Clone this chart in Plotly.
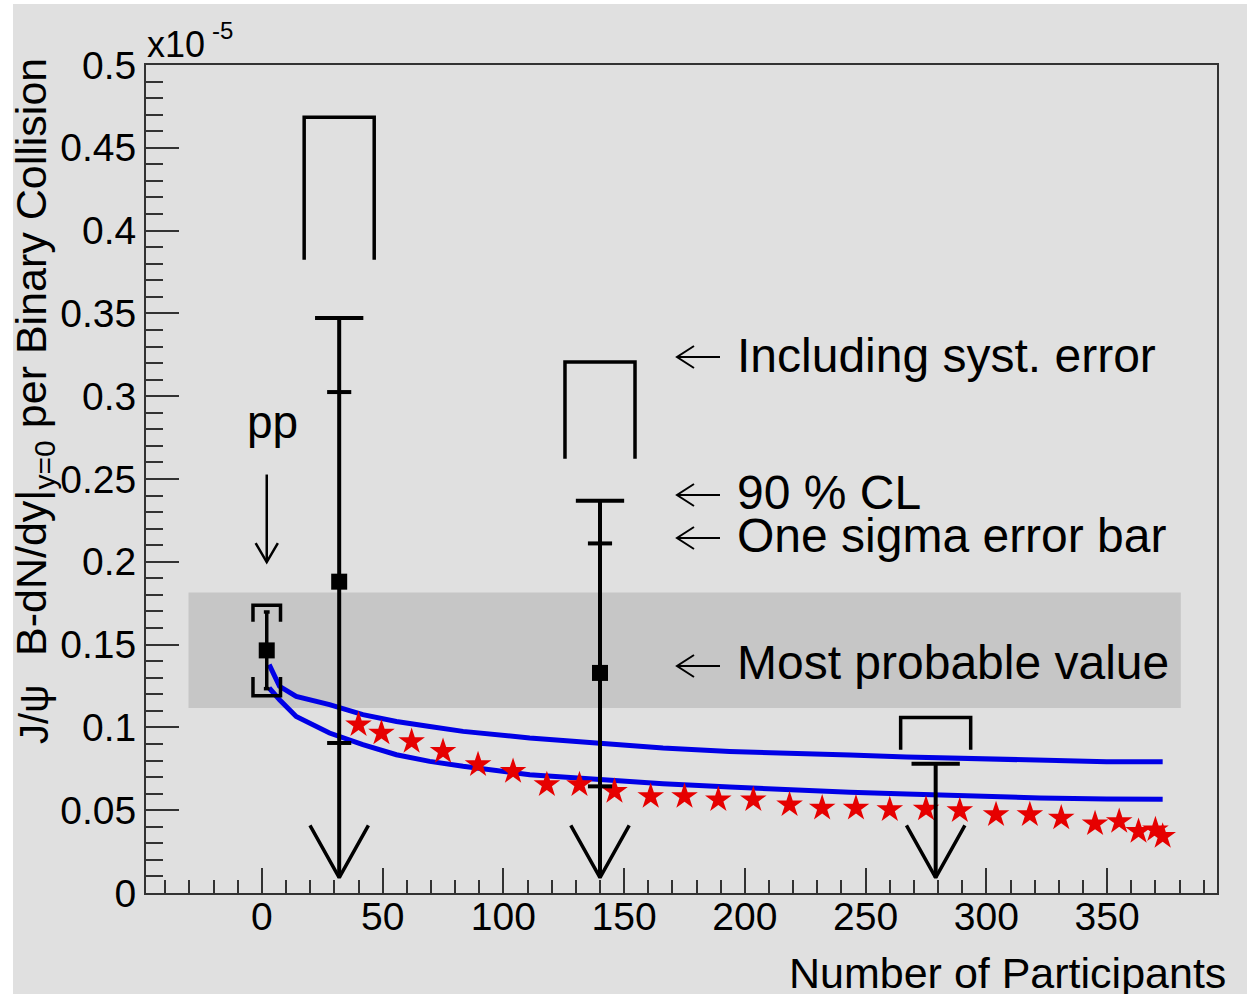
import plotly.graph_objects as go

# ---------------- data (values in units of 1e-5) ----------------
PP_NPART = 2.0
PP_VALUE = 0.1465
PP_SIGMA_LOW = 0.1234
PP_SIGMA_HIGH = 0.1697
PP_SYST_LOW = 0.1191
PP_SYST_LOW_LEG = 0.1304
PP_SYST_HIGH = 0.1737
PP_SYST_HIGH_LEG = 0.1638
PP_ARROW_TOP = 0.2527
PP_ARROW_BOTTOM = 0.1998

AUAU_NPART = [32, 140, 279]
AUAU_MPV = [0.188, 0.1329, None]
AUAU_SIGMA_HIGH = [0.3025, 0.2111, None]
AUAU_SIGMA_LOW = [0.0906, 0.0644, None]
AUAU_CL90 = [0.3472, 0.2369, 0.0781]
AUAU_SYST_TOP = [0.4684, 0.3207, 0.1060]
AUAU_SYST_LEG_END = [0.3824, 0.2623, 0.0865]
ARROW_TIP = 0.0093

BAND_X = [-30.4, 380.5]
BAND_Y = [0.1117, 0.1815]

MODEL_X = [3, 7.3, 14.2, 28, 41.8, 55.7, 69.5, 83.3, 110.9, 138.5, 166.1,
           193.7, 221.4, 243.5, 266.9, 294.5, 322.2, 349.8, 373]
MODEL_UPPER = [0.1379, 0.1248, 0.1187, 0.1138, 0.1077, 0.1036, 0.1006, 0.0976,
               0.0936, 0.0906, 0.0876, 0.0855, 0.0839, 0.0833, 0.0821, 0.0811,
               0.0801, 0.0793, 0.0792]
MODEL_LOWER = [0.1238, 0.1167, 0.1066, 0.0966, 0.0896, 0.0835, 0.0795, 0.0765,
               0.0714, 0.0684, 0.0660, 0.0640, 0.0620, 0.0609, 0.0598, 0.0583,
               0.0574, 0.0568, 0.0566]

STAR_X = [40, 49.5, 62, 75, 89.5, 104, 118, 131.5, 146, 161, 175, 189, 203.5,
          218.5, 232, 246, 260, 275, 289, 304, 318, 331, 345, 355, 363, 370, 373]
STAR_Y = [0.1016, 0.0966, 0.0915, 0.0855, 0.0775, 0.0734, 0.0654, 0.0654,
          0.0614, 0.0583, 0.0583, 0.0563, 0.0563, 0.0533, 0.0513, 0.0513,
          0.0503, 0.0507, 0.0497, 0.0473, 0.0473, 0.0453, 0.0418, 0.0432,
          0.0372, 0.0382, 0.0342]

X_RANGE = [-48, 395.5]
Y_RANGE = [0, 0.5]

LABELS = ["Including syst. error", "90 % CL", "One sigma error bar", "Most probable value"]

# ---------------- style ----------------
FONT = "Liberation Sans, Arial, Helvetica, sans-serif"
BG = "#e0e0e0"
BAND_COLOR = "#c6c6c6"
BLUE = "#0000e6"
RED = "#e60000"
AX = "#333333"
CAP_HALF = 10
SIGMA_HALF = 5
SYST_HALF = 14.5
PP_SYST_HALF = 5.7
PP_CAP_HALF = 1.2
ARROW_HALF = 12.1
ARROW_HEAD = 0.0315
PP_ARROW_HALF = 4.6
PP_ARROW_HEAD = 0.0115

W, H = 1247, 994
L, R, T, B = 146, 1217, 65, 893


def px(x):
    return (x - L) / (R - L)


def py(y):
    return (B - y) / (B - T)


def segs(pairs):
    xs, ys = [], []
    for (xa, ya, xb, yb) in pairs:
        xs += [xa, xb, None]
        ys += [ya, yb, None]
    return xs, ys


def poly(list_of_paths):
    xs, ys = [], []
    for path in list_of_paths:
        for (a, b) in path:
            xs.append(a)
            ys.append(b)
        xs.append(None)
        ys.append(None)
    return xs, ys


fig = go.Figure()

# band
fig.add_trace(go.Scatter(
    x=[BAND_X[0], BAND_X[1], BAND_X[1], BAND_X[0], BAND_X[0]],
    y=[BAND_Y[0], BAND_Y[0], BAND_Y[1], BAND_Y[1], BAND_Y[0]],
    mode="lines", fill="toself", fillcolor=BAND_COLOR,
    line=dict(width=0, color=BAND_COLOR), hoverinfo="skip"))

# model curves
for ys in (MODEL_UPPER, MODEL_LOWER):
    fig.add_trace(go.Scatter(x=MODEL_X, y=ys, mode="lines",
                             line=dict(color=BLUE, width=5)))

# stars
fig.add_trace(go.Scatter(x=STAR_X, y=STAR_Y, mode="markers",
                         marker=dict(symbol="star", size=20, color=RED,
                                     line=dict(width=0))))

# vertical upper-limit lines with arrows
vx, vy = segs([(x, c, x, ARROW_TIP) for x, c in zip(AUAU_NPART, AUAU_CL90)])
fig.add_trace(go.Scatter(x=vx, y=vy, mode="lines", line=dict(color="black", width=4)))

ax_, ay_ = poly([[(x - ARROW_HALF, ARROW_TIP + ARROW_HEAD), (x, ARROW_TIP),
                  (x + ARROW_HALF, ARROW_TIP + ARROW_HEAD)] for x in AUAU_NPART])
fig.add_trace(go.Scatter(x=ax_, y=ay_, mode="lines", line=dict(color="black", width=3.5)))

# 90% CL caps
cx, cy = segs([(x - CAP_HALF, c, x + CAP_HALF, c) for x, c in zip(AUAU_NPART, AUAU_CL90)])
fig.add_trace(go.Scatter(x=cx, y=cy, mode="lines", line=dict(color="black", width=4)))

# one-sigma ticks
sp = []
for x, hi, lo in zip(AUAU_NPART, AUAU_SIGMA_HIGH, AUAU_SIGMA_LOW):
    if hi is not None:
        sp.append((x - SIGMA_HALF, hi, x + SIGMA_HALF, hi))
        sp.append((x - SIGMA_HALF, lo, x + SIGMA_HALF, lo))
sx, sy = segs(sp)
fig.add_trace(go.Scatter(x=sx, y=sy, mode="lines", line=dict(color="black", width=4)))

# systematic brackets
bx, by = poly([[(x - SYST_HALF, e), (x - SYST_HALF, t), (x + SYST_HALF, t), (x + SYST_HALF, e)]
               for x, t, e in zip(AUAU_NPART, AUAU_SYST_TOP, AUAU_SYST_LEG_END)])
fig.add_trace(go.Scatter(x=bx, y=by, mode="lines", line=dict(color="black", width=3.5)))

# pp error bar and brackets
px_, py_ = segs([(PP_NPART, PP_SIGMA_LOW, PP_NPART, PP_SIGMA_HIGH),
                 (PP_NPART - PP_CAP_HALF, PP_SIGMA_LOW, PP_NPART + PP_CAP_HALF, PP_SIGMA_LOW),
                 (PP_NPART - PP_CAP_HALF, PP_SIGMA_HIGH, PP_NPART + PP_CAP_HALF, PP_SIGMA_HIGH)])
fig.add_trace(go.Scatter(x=px_, y=py_, mode="lines", line=dict(color="black", width=3.5)))

ppb_x, ppb_y = poly([
    [(PP_NPART - PP_SYST_HALF, PP_SYST_HIGH_LEG), (PP_NPART - PP_SYST_HALF, PP_SYST_HIGH),
     (PP_NPART + PP_SYST_HALF, PP_SYST_HIGH), (PP_NPART + PP_SYST_HALF, PP_SYST_HIGH_LEG)],
    [(PP_NPART - PP_SYST_HALF, PP_SYST_LOW_LEG), (PP_NPART - PP_SYST_HALF, PP_SYST_LOW),
     (PP_NPART + PP_SYST_HALF, PP_SYST_LOW), (PP_NPART + PP_SYST_HALF, PP_SYST_LOW_LEG)],
])
fig.add_trace(go.Scatter(x=ppb_x, y=ppb_y, mode="lines", line=dict(color="black", width=3.5)))

# pp pointer arrow
pa_x, pa_y = poly([
    [(PP_NPART, PP_ARROW_TOP), (PP_NPART, PP_ARROW_BOTTOM)],
    [(PP_NPART - PP_ARROW_HALF, PP_ARROW_BOTTOM + PP_ARROW_HEAD), (PP_NPART, PP_ARROW_BOTTOM),
     (PP_NPART + PP_ARROW_HALF, PP_ARROW_BOTTOM + PP_ARROW_HEAD)],
])
fig.add_trace(go.Scatter(x=pa_x, y=pa_y, mode="lines", line=dict(color="black", width=2.5)))

# squares (most probable values)
sq_x = [PP_NPART] + [x for x, m in zip(AUAU_NPART, AUAU_MPV) if m is not None]
sq_y = [PP_VALUE] + [m for m in AUAU_MPV if m is not None]
fig.add_trace(go.Scatter(x=sq_x, y=sq_y, mode="markers",
                         marker=dict(symbol="square", size=16, color="black",
                                     line=dict(width=0))))

# ---------------- annotations ----------------
ann = []
shapes = [dict(type="rect", xref="paper", yref="paper",
               x0=px(13), x1=px(W + 5), y0=py(4), y1=py(H + 5),
               fillcolor=BG, line=dict(width=0), layer="below")]

label_y = [355, 492, 535, 662]
arrow_y = [357, 495, 538, 666]
for txt, yy, ay in zip(LABELS, label_y, arrow_y):
    ann.append(dict(x=px(735), y=py(yy), xref="paper", yref="paper", text=txt,
                    showarrow=False, xanchor="left", yanchor="middle",
                    font=dict(family=FONT, size=48, color="black")))
    x0, x1, hl, hh = 677, 720, 17, 11
    path = (f"M {px(x1)},{py(ay)} L {px(x0)},{py(ay)} "
            f"M {px(x0 + hl)},{py(ay - hh)} L {px(x0)},{py(ay)} L {px(x0 + hl)},{py(ay + hh)}")
    shapes.append(dict(type="path", xref="paper", yref="paper", path=path,
                       line=dict(color="black", width=2)))

ann.append(dict(x=px(272), y=py(422), xref="paper", yref="paper", text="pp",
                showarrow=False, xanchor="center", yanchor="middle",
                font=dict(family=FONT, size=46, color="black")))

ann.append(dict(x=px(1228), y=py(973), xref="paper", yref="paper",
                text="Number of Participants", showarrow=False,
                xanchor="right", yanchor="middle",
                font=dict(family=FONT, size=43, color="black")))

ann.append(dict(x=px(34), y=py(357), xref="paper", yref="paper",
                text="B-dN/dy|<sub>y=0</sub> per Binary Collision", showarrow=False,
                textangle=-90, xanchor="center", yanchor="middle",
                font=dict(family=FONT, size=43, color="black")))
ann.append(dict(x=px(34), y=py(714), xref="paper", yref="paper",
                text="J/\u03c8", showarrow=False,
                textangle=-90, xanchor="center", yanchor="middle",
                font=dict(family=FONT, size=40, color="black")))

ann.append(dict(x=px(145), y=py(45), xref="paper", yref="paper", text="x10",
                showarrow=False, xanchor="left", yanchor="middle",
                font=dict(family=FONT, size=36, color="black")))
ann.append(dict(x=px(210), y=py(30), xref="paper", yref="paper", text="-5",
                showarrow=False, xanchor="left", yanchor="middle",
                font=dict(family=FONT, size=24, color="black")))

fig.update_layout(
    width=W, height=H, autosize=False,
    margin=dict(l=L, r=W - R, t=T, b=H - B, pad=0),
    paper_bgcolor="white", plot_bgcolor=BG,
    showlegend=False,
    annotations=ann,
    shapes=shapes,
)

fig.update_xaxes(range=X_RANGE, tick0=0, dtick=50, ticks="inside", ticklen=25,
                 tickwidth=2, tickcolor=AX, showline=True, linecolor=AX, linewidth=2,
                 mirror=True, showgrid=False, zeroline=False,
                 ticklabelstandoff=-12,
                 tickfont=dict(family=FONT, size=39, color="black"),
                 minor=dict(dtick=10, tick0=0, ticks="inside", ticklen=13,
                            tickwidth=2, tickcolor=AX, showgrid=False))
fig.update_yaxes(range=Y_RANGE, tick0=0, dtick=0.05, ticks="inside", ticklen=33,
                 tickwidth=2, tickcolor=AX, showline=True, linecolor=AX, linewidth=2,
                 mirror=True, showgrid=False, zeroline=False,
                 tickformat=".2~f",
                 tickfont=dict(family=FONT, size=39, color="black"),
                 minor=dict(dtick=0.01, tick0=0, ticks="inside", ticklen=17,
                            tickwidth=2, tickcolor=AX, showgrid=False))

fig.write_html("out.html")
